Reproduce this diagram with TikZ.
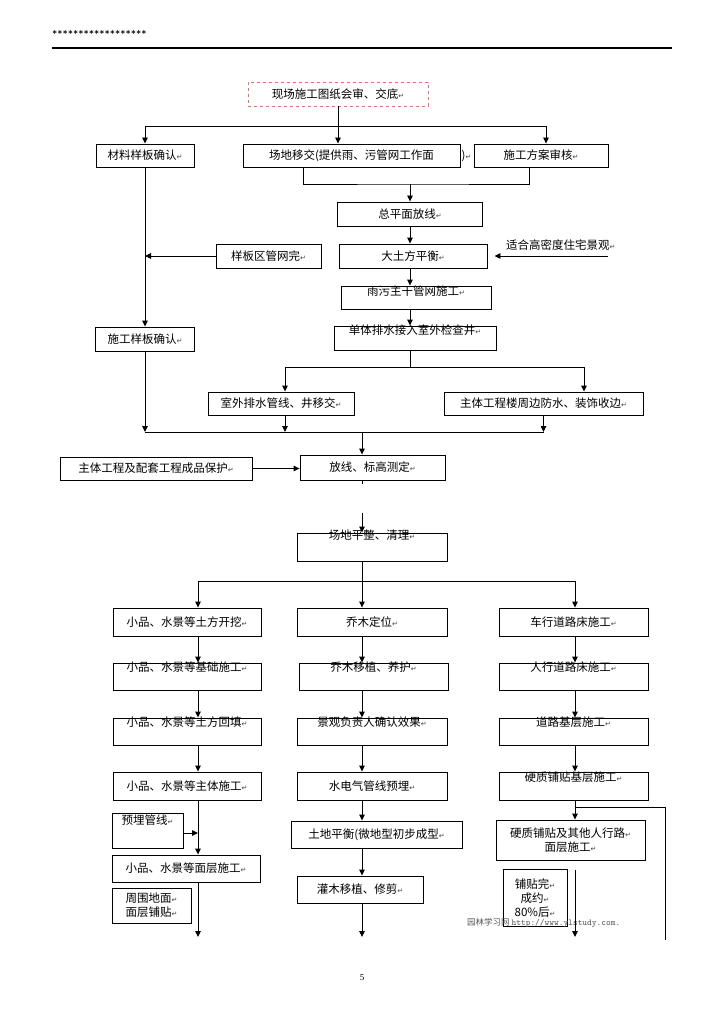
\documentclass[tikz,border=0pt]{standalone}
\usepackage{fontspec}
\setmainfont{Noto Sans CJK SC}
\newfontfamily\symfont{DejaVu Sans}
\newfontfamily\pagefont{Liberation Serif}
\newcommand\rmark{{\symfont\fontsize{7}{7}\selectfont\color{darkgray}↵}}
\usetikzlibrary{arrows.meta}

\begin{document}
\begin{tikzpicture}[x=1pt,y=-1pt,font=\fontsize{11.5}{14}\selectfont,
    box/.style={draw,line width=0.9pt,inner sep=0pt,minimum height=#1},
    box/.default=23pt,
    hibox/.style={box,text height=8pt,text depth=#1},
    line/.style={line width=0.9pt},
    arr/.style={line,-{Triangle[length=6pt,width=5.5pt]}}]
  \definecolor{auditred}{HTML}{E07070}
  \definecolor{markgray}{HTML}{555555}
  \useasboundingbox (0,0) rectangle (724,1024);
  \node[anchor=west,inner sep=0pt,font=\ttfamily\fontsize{10}{10}\selectfont] (stars) at (52,33) {******************};
  \draw[line width=1.6pt] (52,48) -- (672,48);
  \node[box=24pt,minimum width=180pt,draw=auditred,dashed] (audit) at (338,94) {现场施工图纸会审、交底\rmark};
  \node[box,minimum width=98pt] (mat) at (145,155.5) {材料样板确认\rmark};
  \node[box,minimum width=217pt] (site) at (351.5,155.5) {场地移交(提供雨、污管网工作面};
  \node[anchor=west,inner sep=1pt] (paren) at (site.east) {)\rmark};
  \node[box,minimum width=134pt] (plan) at (541,155.5) {施工方案审核\rmark};
  \node[box=24pt,minimum width=145pt] (layout) at (410,214) {总平面放线\rmark};
  \node[box=24pt,minimum width=148pt] (earth) at (413,256) {大土方平衡\rmark};
  \node[box=24pt,minimum width=105pt] (zone) at (268.5,256) {样板区管网完\rmark};
  \node[anchor=west,inner sep=0pt] (fit) at (506,245) {适合高密度住宅景观\rmark};
  \node[box=24pt,minimum width=99pt] (trial) at (145,339) {施工样板确认\rmark};
  \node[hibox=14pt,text height=9pt,minimum width=150pt] (main) at (416,297.5) {雨污主干管网施工\rmark};
  \node[hibox=16pt,minimum width=162pt] (drain) at (415,338) {单体排水接入室外检查井\rmark};
  \node[box,minimum width=146pt] (pipe) at (281,403.5) {室外排水管线、井移交\rmark};
  \node[box,minimum width=199pt] (wall) at (543.5,403.5) {主体工程楼周边防水、装饰收边\rmark};
  \node[box=25pt,minimum width=145pt] (stake) at (372.5,467.5) {放线、标高测定\rmark};
  \node[box,minimum width=192pt] (protect) at (156,468.5) {主体工程及配套工程成品保护\rmark};

  \coordinate (j1) at (338,126);
  \draw[line] (audit) -- (j1);
  \draw[arr] (j1) -| (mat);
  \draw[arr] (j1) -- (j1 |- site.north);
  \draw[arr] (j1) -| ([xshift=5pt]plan.north);
  \coordinate (j2) at (410,184);
  \draw[line] ([xshift=-48pt]site.south) |- (j2) -| ([xshift=-12pt]plan.south);
  \draw[arr] (j2) -- (j2 |- layout.north);
  \draw[arr] (layout.south -| j2) -- (earth.north -| j2);
  \coordinate (fitend) at (608,256);
  \draw[arr,shorten >=7pt] (fitend) -- (earth.east);
  \draw[arr] (zone) -- (zone -| mat);
  \draw[arr] (mat) -- (trial);
  \draw[arr] (earth.south -| j2) -- (main.north -| j2);
  \draw[arr] (main.south -| j2) -- (drain.north -| j2);
  \coordinate (j3) at (410,367);
  \draw[line] (drain.south -| j3) -- (j3);
  \draw[arr] (j3) -| ([xshift=4pt]pipe.north);
  \draw[arr] (j3) -| ([xshift=40.5pt]wall.north);
  \coordinate (j4) at (362,432);
  \draw[line] (trial.south |- j4) -- (wall.south |- j4);
  \draw[arr] (trial) -- (trial |- j4);
  \draw[arr] ([xshift=4pt]pipe.south) -- ([xshift=4pt]pipe.south |- j4);
  \draw[arr] (wall) -- (wall |- j4);
  \draw[arr] (j4) -- (j4 |- stake.north);
  \draw[arr] (protect) -- (protect -| stake.west);
  \draw[line] (j4 |- stake.south) -- ++(0,4);

  \node[hibox=22pt,text height=6pt,minimum width=150pt] (clear) at (372,547) {场地平整、清理\rmark};
  \node[box=28pt,minimum width=148pt] (dig) at (187,622) {小品、水景等土方开挖\rmark};
  \node[box=28pt,minimum width=150pt] (tree) at (372,622) {乔木定位\rmark};
  \node[box=28pt,minimum width=149pt] (road) at (573.5,622) {车行道路床施工\rmark};
  \node[hibox=19pt,minimum width=148pt] (base) at (187,676.5) {小品、水景等基础施工\rmark};
  \node[hibox=19pt,minimum width=149pt] (plant) at (373.5,676.5) {乔木移植、养护\rmark};
  \node[hibox=19pt,minimum width=149pt] (walk) at (573.5,676.5) {人行道路床施工\rmark};
  \node[hibox=19pt,minimum width=148pt] (backfill) at (187,731.5) {小品、水景等土方回填\rmark};
  \node[hibox=19pt,minimum width=150pt] (check) at (372,731.5) {景观负责人确认效果\rmark};
  \node[hibox=19pt,minimum width=149pt] (course) at (573.5,731.5) {道路基层施工\rmark};
  \node[box=28pt,minimum width=148pt] (body) at (187,786) {小品、水景等主体施工\rmark};
  \node[box=28pt,minimum width=150pt] (pipes) at (372,786) {水电气管线预埋\rmark};
  \node[hibox=19pt,text height=9pt,minimum width=149pt] (hardbase) at (573.5,786) {硬质铺贴基层施工\rmark};
  \node[hibox=24pt,text height=11pt,minimum width=71pt] (embed) at (147.5,830.5) {预埋管线\rmark};
  \node[box=27pt,minimum width=148pt] (face) at (186,868.5) {小品、水景等面层施工\rmark};
  \node[box=35pt,minimum width=79pt,align=center] (around) at (151.5,905.5) {周围地面\rmark\\面层铺贴\rmark};
  \node[box=27pt,minimum width=171pt] (level) at (376.5,834.5) {土地平衡(微地型初步成型\rmark};
  \node[box=27pt,minimum width=126pt] (shrub) at (360,889.5) {灌木移植、修剪\rmark};
  \node[box=40pt,minimum width=149pt,align=center] (surface) at (570.5,840) {硬质铺贴及其他人行路\rmark\\面层施工\rmark};
  \node[box=57pt,minimum width=64pt,align=center] (note) at (535,898) {铺贴完\rmark\\成约\rmark\\80\%后\rmark};
  \node[anchor=west,inner sep=0pt,font=\fontsize{8.5}{9}\selectfont,text=markgray] (mark) at (467,923) {园林学习网 \texttt{\fontsize{9}{9}\selectfont http://www.ylstudy.com.}};
  \node[font=\pagefont\fontsize{9}{9}\selectfont] (page) at (362,978) {5};

  \coordinate (j5) at (362,513);
  \draw[arr] (j5) -- (j5 |- clear.north);
  \coordinate (j6) at (362,581);
  \coordinate (colL) at (198,581);
  \coordinate (colR) at (575,581);
  \draw[line] (clear.south -| j6) -- (j6);
  \draw[line] (colL) -- (colR);
  \draw[arr] (colL) -- (colL |- dig.north);
  \draw[arr] (j6) -- (j6 |- tree.north);
  \draw[arr] (colR) -- (colR |- road.north);
  \foreach \u/\v in {dig/base,base/backfill,backfill/body,body/face}
    \draw[arr] (\u.south -| colL) -- (\v.north -| colL);
  \foreach \u/\v in {tree/plant,plant/check,check/pipes,pipes/level,level/shrub}
    \draw[arr] (\u.south -| j6) -- (\v.north -| j6);
  \foreach \u/\v in {road/walk,walk/course,course/hardbase,hardbase/surface}
    \draw[arr] (\u.south -| colR) -- (\v.north -| colR);
  \draw[arr] ([yshift=-2.5pt]embed.east) -- ([yshift=-2.5pt]embed.east -| colL);
  \coordinate (endL) at (198,937);
  \coordinate (endM) at (362,937);
  \coordinate (startR) at (575,870);
  \coordinate (endR) at (575,937);
  \coordinate (j7) at (575,807);
  \coordinate (endX) at (665,940);
  \draw[arr] (face.south -| colL) -- (endL);
  \draw[arr] (shrub.south -| j6) -- (endM);
  \draw[arr] (startR) -- (endR);
  \draw[line] (j7) -| (endX);
\end{tikzpicture}
\end{document}
